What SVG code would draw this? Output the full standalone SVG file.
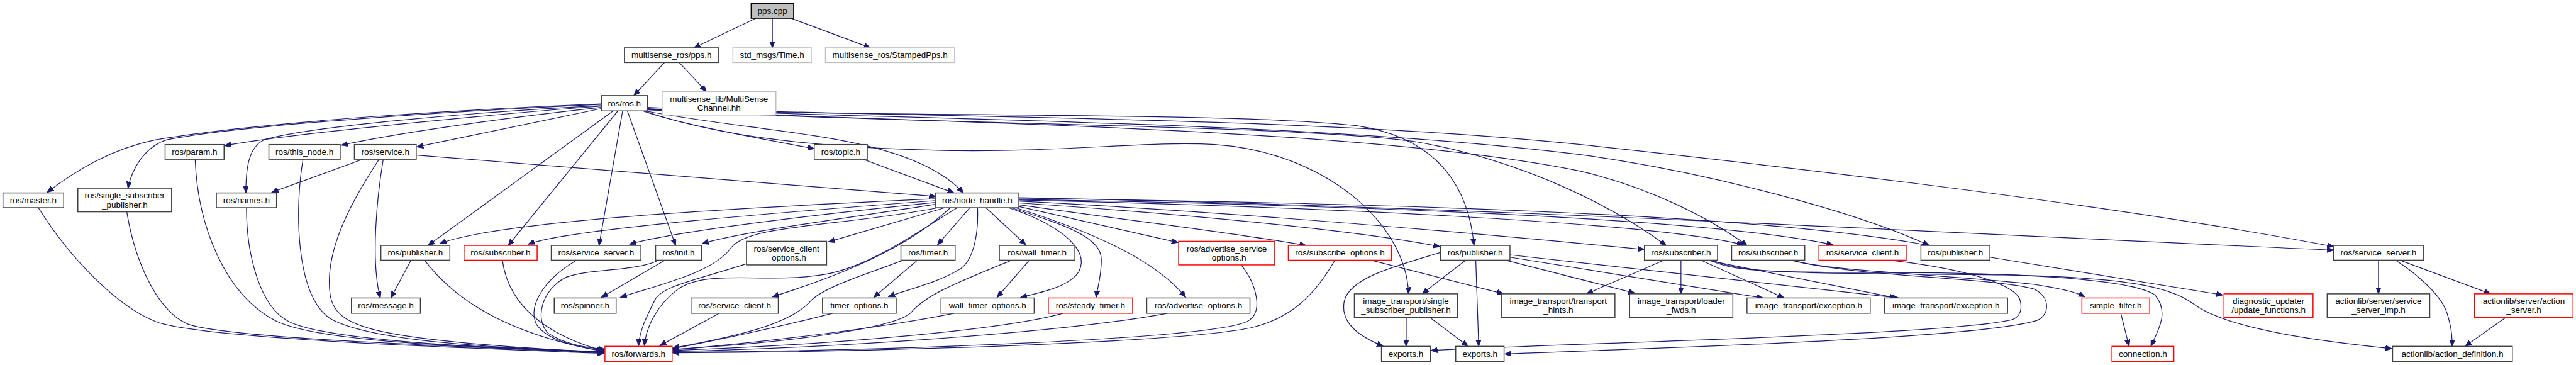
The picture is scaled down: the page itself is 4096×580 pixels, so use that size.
<svg xmlns="http://www.w3.org/2000/svg" width="4096" height="580" viewBox="0 0 4096 580">
<defs>
<marker id="a" markerUnits="userSpaceOnUse" markerWidth="12" markerHeight="10" refX="11" refY="4.5" orient="auto"><path d="M0,0 L11,4.5 L0,9 z" fill="#191970" stroke="#191970" stroke-width="1"/></marker>
<style>
.n rect{fill:#fff;stroke:#404040;stroke-width:1.6}
.n.r rect{stroke:#ff0000}
.n.g rect{stroke:#bfbfbf}
.n.s rect{fill:#bfbfbf;stroke:#000}
text{font-family:"Liberation Sans",Arial,sans-serif;font-size:14.4px;text-anchor:middle;fill:#000}
#edges path{fill:none;stroke:#191970;stroke-width:1.3;marker-end:url(#a)}
</style>
</defs>
<rect width="4096" height="580" fill="#fff"/>
<g transform="scale(0.93751)">
<g id="edges">
<path d="M1282,31 L1177,81"/>
<path d="M1310,31 L1310,81"/>
<path d="M1342,31 L1476,81"/>
<path d="M1127,106 L1075,162"/>
<path d="M1152,106 L1198,155"/>
<path d="M1020,176 C800,185 450,205 264,237 C190,252 130,288 80,326"/>
<path d="M1020,177 C800,187 420,210 283,237 C250,247 225,280 217,319"/>
<path d="M1020,180 C880,190 500,225 381,247"/>
<path d="M1020,179 C800,190 520,215 448,237 C420,250 417,290 417,327"/>
<path d="M1020,182 C900,195 700,220 579,246"/>
<path d="M1020,184 L707,249"/>
<path d="M1040,188 L726,416"/>
<path d="M1048,188 L862,416"/>
<path d="M1056,188 L1016,416"/>
<path d="M1064,188 L1146,416"/>
<path d="M1090,188 C1150,210 1290,235 1381,252"/>
<path d="M1094,188 C1300,228 1540,225 1634,327"/>
<path d="M707,263 L1587,333"/>
<path d="M1464,270 L1618,327"/>
<path d="M1092,188 C1200,225 1350,250 1600,255 C1800,259 1950,238 2060,245 C2250,258 2385,380 2389,498"/>
<path d="M1096,186 C1500,198 2100,190 2300,213 C2450,235 2492,330 2500,416"/>
<path d="M1097,186 C1600,212 2200,212 2400,240 C2600,275 2750,360 2826,416"/>
<path d="M1097,185 C1500,208 2300,212 2680,290 C2800,318 2900,370 2963,416"/>
<path d="M1098,184 C1500,203 2200,203 2680,262 C2900,292 3150,360 3272,416"/>
<path d="M1098,182 C1500,200 2200,195 2680,245 C3100,290 3600,350 3958,418"/>
<path d="M1587,337 C1300,350 850,372 746,413"/>
<path d="M1587,340 C1350,358 960,388 896,414"/>
<path d="M1587,343 C1400,362 1140,392 1068,414"/>
<path d="M1588,346 C1450,368 1260,392 1191,413"/>
<path d="M1603,352 L1405,410"/>
<path d="M1592,352 C1420,385 1270,380 1240,420 C1210,462 1120,482 1052,504"/>
<path d="M1624,352 C1560,390 1480,450 1400,465 C1300,482 1200,455 1150,490 C1110,520 1095,560 1093,586"/>
<path d="M1612,352 C1560,400 1480,450 1310,503"/>
<path d="M1645,352 L1590,415"/>
<path d="M1658,352 C1660,400 1650,440 1630,455 C1590,480 1540,490 1507,503"/>
<path d="M1672,352 L1740,415"/>
<path d="M1710,352 C1790,378 1850,420 1830,460 C1815,485 1770,495 1731,504"/>
<path d="M1715,352 C1800,380 1868,400 1868,440 C1868,468 1862,485 1859,504"/>
<path d="M1722,352 C1850,392 1960,440 2011,504"/>
<path d="M1728,350 L1998,411"/>
<path d="M1728,347 C1900,372 2100,395 2215,416"/>
<path d="M1728,344 C2000,362 2300,390 2442,418"/>
<path d="M1728,341 C2100,360 2500,395 2789,423"/>
<path d="M1728,339 C2200,350 2800,375 2957,415"/>
<path d="M1728,338 C2300,348 2900,370 3109,415"/>
<path d="M1728,336 C2400,345 3000,365 3271,416"/>
<path d="M1728,335 C2500,350 3300,395 3958,424"/>
<path d="M615,270 L461,326"/>
<path d="M650,270 C640,330 628,440 645,505"/>
<path d="M643,270 C590,350 550,430 560,500 C570,560 640,575 1025,598"/>
<path d="M697,441 L663,505"/>
<path d="M720,441 C780,520 880,570 1025,596"/>
<path d="M331,270 C335,380 380,500 470,545 C560,585 850,588 1025,597"/>
<path d="M514,270 C500,350 500,500 560,540 C630,580 850,590 1025,596"/>
<path d="M418,352 C418,430 440,520 490,545 C560,580 850,590 1025,597"/>
<path d="M65,352 C120,440 200,520 264,545 C340,575 800,590 1025,599"/>
<path d="M215,359 C230,450 270,530 320,550 C400,575 800,588 1025,598"/>
<path d="M852,441 C860,500 900,560 1024,595"/>
<path d="M978,441 C920,475 895,520 910,550 C930,580 990,590 1024,594"/>
<path d="M1117,441 C1080,460 1000,455 960,470 C920,490 905,540 930,565 C960,585 1000,590 1026,592"/>
<path d="M1128,441 L1020,504"/>
<path d="M1266,447 C1180,475 1120,485 1110,510 C1095,540 1085,560 1083,586"/>
<path d="M1220,531 L1119,586"/>
<path d="M1412,531 C1320,555 1200,580 1141,591"/>
<path d="M1556,441 L1482,504"/>
<path d="M1532,441 C1470,465 1400,485 1375,510 C1340,550 1250,570 1141,590"/>
<path d="M1746,441 L1691,504"/>
<path d="M1716,441 C1620,480 1570,500 1545,530 C1520,555 1350,580 1141,592"/>
<path d="M1618,531 C1500,555 1300,580 1141,593"/>
<path d="M1803,531 C1700,560 1400,585 1141,594"/>
<path d="M1980,531 C1800,565 1400,590 1141,596"/>
<path d="M2105,449 C2130,480 2145,530 2115,545 C2050,575 1500,595 1141,597"/>
<path d="M2264,441 C2230,500 2190,540 2120,556 C2000,580 1500,597 1141,598"/>
<path d="M2325,441 L2550,498"/>
<path d="M2443,428 C2370,450 2290,470 2280,510 C2272,550 2310,572 2346,587"/>
<path d="M2486,441 L2412,498"/>
<path d="M2503,441 L2508,587"/>
<path d="M2553,441 L2773,497"/>
<path d="M2561,436 L2990,505"/>
<path d="M2561,432 L3220,505"/>
<path d="M2822,441 L2691,498"/>
<path d="M2851,441 L2851,498"/>
<path d="M2885,441 L3026,505"/>
<path d="M2895,441 L3216,505"/>
<path d="M2900,441 C2940,460 3000,462 3200,462 C3450,462 3620,475 3655,500 C3680,530 3660,560 3648,587"/>
<path d="M2905,441 C2960,468 3100,462 3400,466 C3600,470 3680,485 3720,515 C3780,560 3950,580 4057,591"/>
<path d="M3040,441 C3100,460 3300,465 3450,482 C3500,490 3520,495 3536,503"/>
<path d="M3037,441 C3150,470 3380,470 3450,490 C3480,505 3475,535 3455,543 C3350,575 2800,590 2552,600"/>
<path d="M3204,441 C3330,455 3410,480 3425,505 C3432,525 3425,538 3412,542 C3300,568 2700,580 2427,594"/>
<path d="M3375,436 L3770,500"/>
<path d="M3597,531 L3611,587"/>
<path d="M4034,441 L4034,498"/>
<path d="M4063,441 C4100,465 4140,500 4150,530 C4158,555 4159,570 4159,587"/>
<path d="M4070,441 L4224,498"/>
<path d="M4250,538 L4181,587"/>
<path d="M2385,538 L2385,587"/>
<path d="M2425,538 L2490,587"/>
</g>
<g id="node0" class="n s"><rect x="1274" y="6" width="72" height="25"/><text x="1310" y="23.5">pps.cpp</text></g>
<g id="node1" class="n"><rect x="1059" y="81" width="160" height="25"/><text x="1139" y="98.5">multisense_ros/pps.h</text></g>
<g id="node2" class="n g"><rect x="1243" y="81" width="133" height="25"/><text x="1309.5" y="98.5">std_msgs/Time.h</text></g>
<g id="node3" class="n g"><rect x="1400" y="81" width="219" height="25"/><text x="1509.5" y="98.5">multisense_ros/StampedPps.h</text></g>
<g id="node4" class="n"><rect x="1020" y="162" width="78" height="26"/><text x="1059" y="180">ros/ros.h</text></g>
<g id="node5" class="n g"><rect x="1123" y="155" width="193" height="40"/><text x="1219.5" y="172.5">multisense_lib/MultiSense</text><text x="1219.5" y="187.5">Channel.hh</text></g>
<g id="node6" class="n"><rect x="280" y="245" width="100" height="25"/><text x="330" y="262.5">ros/param.h</text></g>
<g id="node7" class="n"><rect x="456" y="245" width="121" height="25"/><text x="516.5" y="262.5">ros/this_node.h</text></g>
<g id="node8" class="n"><rect x="601" y="245" width="105" height="25"/><text x="653.5" y="262.5">ros/service.h</text></g>
<g id="node9" class="n"><rect x="1381" y="245" width="90" height="25"/><text x="1426" y="262.5">ros/topic.h</text></g>
<g id="node10" class="n"><rect x="5" y="327" width="103" height="25"/><text x="56.5" y="344.5">ros/master.h</text></g>
<g id="node11" class="n"><rect x="132" y="319" width="159" height="40"/><text x="211.5" y="336.5">ros/single_subscriber</text><text x="211.5" y="351.5">_publisher.h</text></g>
<g id="node12" class="n"><rect x="367" y="327" width="102" height="25"/><text x="418" y="344.5">ros/names.h</text></g>
<g id="node13" class="n"><rect x="1587" y="327" width="141" height="25"/><text x="1657.5" y="344.5">ros/node_handle.h</text></g>
<g id="node14" class="n"><rect x="646" y="416" width="117" height="25"/><text x="704.5" y="433.5">ros/publisher.h</text></g>
<g id="node15" class="n r"><rect x="787" y="416" width="124" height="25"/><text x="849" y="433.5">ros/subscriber.h</text></g>
<g id="node16" class="n"><rect x="935" y="416" width="152" height="25"/><text x="1011" y="433.5">ros/service_server.h</text></g>
<g id="node17" class="n"><rect x="1112" y="416" width="78" height="25"/><text x="1151" y="433.5">ros/init.h</text></g>
<g id="node18" class="n"><rect x="1266" y="409" width="136" height="40"/><text x="1334" y="426.5">ros/service_client</text><text x="1334" y="441.5">_options.h</text></g>
<g id="node19" class="n"><rect x="1528" y="416" width="92" height="25"/><text x="1574" y="433.5">ros/timer.h</text></g>
<g id="node20" class="n"><rect x="1695" y="416" width="128" height="25"/><text x="1759" y="433.5">ros/wall_timer.h</text></g>
<g id="node21" class="n r"><rect x="1999" y="409" width="163" height="40"/><text x="2080.5" y="426.5">ros/advertise_service</text><text x="2080.5" y="441.5">_options.h</text></g>
<g id="node22" class="n r"><rect x="2185" y="416" width="175" height="25"/><text x="2272.5" y="433.5">ros/subscribe_options.h</text></g>
<g id="node23" class="n"><rect x="2443" y="416" width="118" height="25"/><text x="2502" y="433.5">ros/publisher.h</text></g>
<g id="node24" class="n"><rect x="2789" y="416" width="124" height="25"/><text x="2851" y="433.5">ros/subscriber.h</text></g>
<g id="node25" class="n"><rect x="2937" y="416" width="124" height="25"/><text x="2999" y="433.5">ros/subscriber.h</text></g>
<g id="node26" class="n r"><rect x="3085" y="416" width="148" height="25"/><text x="3159" y="433.5">ros/service_client.h</text></g>
<g id="node27" class="n"><rect x="3258" y="416" width="117" height="25"/><text x="3316.5" y="433.5">ros/publisher.h</text></g>
<g id="node28" class="n"><rect x="3958" y="416" width="152" height="25"/><text x="4034" y="433.5">ros/service_server.h</text></g>
<g id="node29" class="n"><rect x="596" y="505" width="117" height="26"/><text x="654.5" y="523">ros/message.h</text></g>
<g id="node30" class="n"><rect x="940" y="505" width="105" height="26"/><text x="992.5" y="523">ros/spinner.h</text></g>
<g id="node31" class="n"><rect x="1172" y="505" width="148" height="26"/><text x="1246" y="523">ros/service_client.h</text></g>
<g id="node32" class="n"><rect x="1395" y="505" width="125" height="26"/><text x="1457.5" y="523">timer_options.h</text></g>
<g id="node33" class="n"><rect x="1596" y="505" width="158" height="26"/><text x="1675" y="523">wall_timer_options.h</text></g>
<g id="node34" class="n r"><rect x="1778" y="505" width="143" height="26"/><text x="1849.5" y="523">ros/steady_timer.h</text></g>
<g id="node35" class="n"><rect x="1945" y="505" width="175" height="26"/><text x="2032.5" y="523">ros/advertise_options.h</text></g>
<g id="node36" class="n"><rect x="2297" y="498" width="175" height="40"/><text x="2384.5" y="515.5">image_transport/single</text><text x="2384.5" y="530.5">_subscriber_publisher.h</text></g>
<g id="node37" class="n"><rect x="2547" y="498" width="192" height="40"/><text x="2643" y="515.5">image_transport/transport</text><text x="2643" y="530.5">_hints.h</text></g>
<g id="node38" class="n"><rect x="2764" y="498" width="175" height="40"/><text x="2851.5" y="515.5">image_transport/loader</text><text x="2851.5" y="530.5">_fwds.h</text></g>
<g id="node39" class="n"><rect x="2963" y="505" width="209" height="26"/><text x="3067.5" y="523">image_transport/exception.h</text></g>
<g id="node40" class="n"><rect x="3196" y="505" width="209" height="26"/><text x="3300.5" y="523">image_transport/exception.h</text></g>
<g id="node41" class="n r"><rect x="3531" y="505" width="115" height="26"/><text x="3588.5" y="523">simple_filter.h</text></g>
<g id="node42" class="n r"><rect x="3772" y="498" width="151" height="40"/><text x="3847.5" y="515.5">diagnostic_updater</text><text x="3847.5" y="530.5">/update_functions.h</text></g>
<g id="node43" class="n"><rect x="3947" y="498" width="174" height="40"/><text x="4034" y="515.5">actionlib/server/service</text><text x="4034" y="530.5">_server_imp.h</text></g>
<g id="node44" class="n r"><rect x="4197" y="498" width="167" height="40"/><text x="4280.5" y="515.5">actionlib/server/action</text><text x="4280.5" y="530.5">_server.h</text></g>
<g id="node45" class="n r"><rect x="1026" y="587" width="114" height="26"/><text x="1083" y="605">ros/forwards.h</text></g>
<g id="node46" class="n"><rect x="2343" y="587" width="83" height="26"/><text x="2384.5" y="605">exports.h</text></g>
<g id="node47" class="n"><rect x="2469" y="587" width="82" height="26"/><text x="2510" y="605">exports.h</text></g>
<g id="node48" class="n r"><rect x="3582" y="587" width="105" height="26"/><text x="3634.5" y="605">connection.h</text></g>
<g id="node49" class="n"><rect x="4058" y="587" width="203" height="26"/><text x="4159.5" y="605">actionlib/action_definition.h</text></g>
</g>
</svg>
